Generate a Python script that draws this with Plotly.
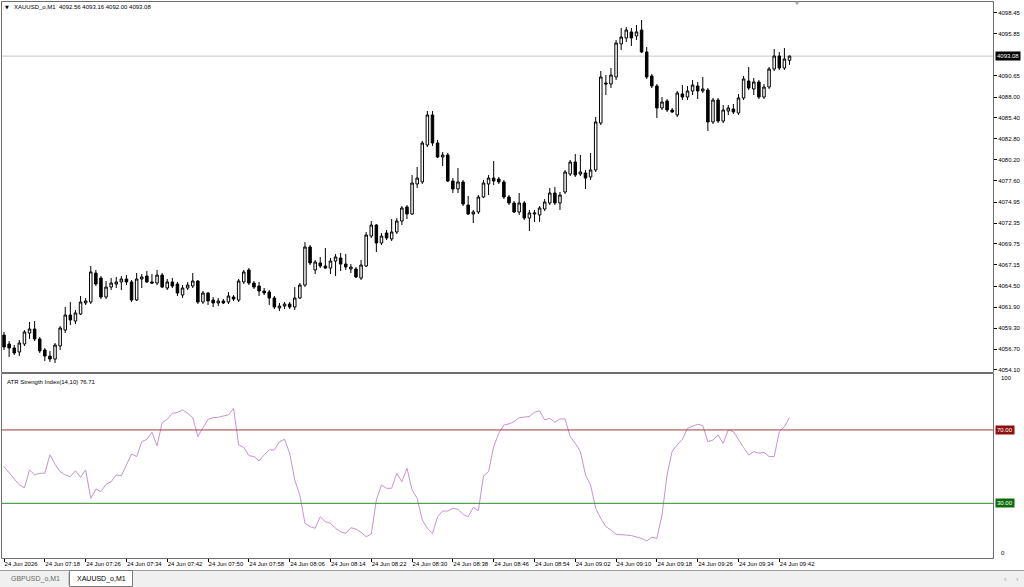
import plotly.graph_objects as go

# ---------------- data ----------------
time_labels = ["24 Jun 2026", "24 Jun 07:18", "24 Jun 07:26", "24 Jun 07:34", "24 Jun 07:42",
               "24 Jun 07:50", "24 Jun 07:58", "24 Jun 08:06", "24 Jun 08:14", "24 Jun 08:22",
               "24 Jun 08:30", "24 Jun 08:38", "24 Jun 08:46", "24 Jun 08:54", "24 Jun 09:02",
               "24 Jun 09:10", "24 Jun 09:18", "24 Jun 09:26", "24 Jun 09:34", "24 Jun 09:42"]

opens = [4058.44, 4057.33, 4056.83, 4056.33, 4057.33, 4058.69, 4059.19, 4057.95, 4056.58, 4055.83,
         4055.46, 4057.08, 4059.06, 4060.93, 4060.18, 4061.05, 4062.42, 4062.54, 4066.14, 4065.52,
         4063.16, 4064.40, 4064.78, 4065.03, 4065.40, 4065.03, 4062.79, 4065.40, 4065.77, 4065.03,
         4064.90, 4065.89, 4064.28, 4065.03, 4064.78, 4063.41, 4064.28, 4064.53, 4065.15, 4062.54,
         4063.66, 4062.79, 4062.42, 4062.67, 4062.54, 4063.16, 4062.79, 4065.03, 4066.52, 4064.90,
         4064.53, 4063.91, 4063.78, 4063.04, 4061.80, 4062.04, 4062.29, 4061.92, 4063.04, 4064.65,
         4069.37, 4066.52, 4067.39, 4067.01, 4066.76, 4067.63, 4068.01, 4067.26, 4066.64, 4066.64,
         4065.52, 4067.01, 4070.74, 4072.10, 4069.87, 4071.11, 4070.37, 4071.24, 4072.60, 4074.34,
         4073.47, 4077.20, 4077.45, 4082.04, 4085.77, 4082.29, 4080.55, 4080.80, 4077.57, 4076.58,
         4077.45, 4074.59, 4073.47, 4073.72, 4075.58, 4077.20, 4077.94, 4077.82, 4077.45, 4075.58,
         4074.84, 4073.72, 4074.84, 4072.97, 4073.47, 4073.35, 4074.09, 4074.84, 4076.08, 4074.84,
         4076.20, 4078.44, 4079.93, 4078.44, 4078.56, 4078.07, 4078.94, 4084.77, 4089.74, 4089.62,
         4090.49, 4094.59, 4095.33, 4096.08, 4095.58, 4096.32, 4093.59, 4090.61, 4089.37, 4086.64,
         4087.51, 4086.39, 4085.77, 4088.38, 4088.00, 4088.75, 4089.37, 4088.75, 4088.87, 4084.90,
         4087.63, 4085.02, 4086.26, 4086.51, 4086.02, 4087.88, 4089.99, 4089.00, 4089.87, 4088.00,
         4089.24, 4091.48, 4093.09, 4091.60, 4092.56]

highs = [4058.82, 4057.70, 4057.20, 4057.82, 4059.06, 4060.06, 4060.18, 4058.19, 4056.83, 4056.46,
         4057.45, 4059.56, 4061.92, 4062.54, 4061.55, 4063.29, 4063.04, 4067.01, 4066.52, 4065.77,
         4065.15, 4065.52, 4065.65, 4065.77, 4065.89, 4065.27, 4066.14, 4066.02, 4066.39, 4066.02,
         4066.52, 4066.14, 4065.40, 4065.52, 4065.03, 4064.65, 4065.03, 4066.14, 4065.27, 4063.91,
         4063.78, 4063.16, 4063.04, 4062.91, 4063.78, 4063.41, 4065.40, 4066.52, 4066.76, 4065.15,
         4065.03, 4064.28, 4064.03, 4063.29, 4062.42, 4062.54, 4062.54, 4064.40, 4064.90, 4069.99,
         4069.62, 4067.76, 4068.13, 4069.25, 4068.01, 4068.50, 4068.63, 4068.50, 4067.26, 4066.89,
         4067.76, 4071.24, 4072.60, 4072.23, 4071.11, 4071.48, 4072.85, 4072.97, 4074.46, 4074.59,
         4078.31, 4079.31, 4082.54, 4086.26, 4086.26, 4082.66, 4081.17, 4081.05, 4077.94, 4079.18,
         4077.69, 4075.71, 4073.97, 4075.83, 4077.69, 4078.31, 4080.05, 4078.07, 4077.69, 4075.83,
         4075.09, 4076.08, 4075.09, 4073.97, 4073.97, 4074.46, 4075.33, 4076.70, 4076.82, 4076.20,
         4078.94, 4080.18, 4080.92, 4080.80, 4078.94, 4081.05, 4085.52, 4091.23, 4090.73, 4091.60,
         4095.08, 4096.57, 4096.70, 4096.57, 4096.94, 4097.57, 4094.21, 4090.86, 4089.62, 4088.00,
         4087.75, 4086.64, 4088.75, 4089.49, 4089.37, 4090.11, 4089.87, 4090.49, 4089.12, 4087.88,
         4087.88, 4087.01, 4087.01, 4087.13, 4088.38, 4090.61, 4091.73, 4090.36, 4090.11, 4089.62,
         4091.73, 4093.96, 4093.59, 4094.09, 4093.16]

lows = [4056.58, 4055.71, 4055.96, 4055.83, 4057.08, 4057.95, 4057.70, 4056.21, 4055.21, 4055.09,
        4054.97, 4056.58, 4058.69, 4059.68, 4059.81, 4060.93, 4062.17, 4062.29, 4064.53, 4062.91,
        4062.91, 4064.03, 4064.28, 4064.03, 4064.65, 4062.54, 4062.67, 4064.28, 4064.90, 4064.78,
        4064.65, 4064.28, 4064.03, 4064.28, 4063.29, 4063.04, 4064.03, 4064.28, 4062.29, 4062.29,
        4062.17, 4061.92, 4062.04, 4062.29, 4062.29, 4062.67, 4062.54, 4064.78, 4064.65, 4064.16,
        4063.29, 4063.41, 4062.17, 4061.67, 4061.42, 4061.67, 4061.67, 4061.55, 4062.91, 4064.40,
        4067.14, 4066.02, 4066.76, 4066.64, 4066.02, 4065.77, 4066.39, 4066.52, 4066.14, 4065.52,
        4065.27, 4066.89, 4070.49, 4068.75, 4069.62, 4070.24, 4070.12, 4070.99, 4072.10, 4072.85,
        4073.35, 4076.70, 4077.20, 4081.79, 4081.92, 4080.43, 4079.43, 4077.45, 4076.08, 4076.08,
        4074.46, 4073.35, 4072.35, 4073.47, 4075.46, 4075.83, 4077.07, 4077.20, 4075.33, 4074.59,
        4073.60, 4073.35, 4072.73, 4071.36, 4072.48, 4072.48, 4073.84, 4074.59, 4074.59, 4073.97,
        4075.96, 4078.19, 4078.07, 4078.19, 4076.58, 4077.69, 4078.69, 4084.52, 4088.25, 4089.12,
        4090.11, 4093.84, 4094.83, 4094.34, 4095.08, 4093.47, 4090.24, 4089.12, 4085.39, 4086.39,
        4086.14, 4086.02, 4085.52, 4087.63, 4087.63, 4088.25, 4087.75, 4088.50, 4083.78, 4084.65,
        4084.77, 4084.77, 4085.77, 4085.89, 4085.77, 4087.63, 4088.87, 4088.25, 4087.75, 4087.75,
        4089.00, 4091.23, 4091.36, 4091.36, 4092.00]

closes = [4056.95, 4056.83, 4056.21, 4057.45, 4058.82, 4059.19, 4057.95, 4056.46, 4055.83, 4055.46,
          4057.20, 4059.31, 4060.93, 4060.31, 4061.18, 4062.54, 4062.67, 4066.27, 4064.78, 4063.16,
          4064.40, 4064.90, 4065.03, 4065.40, 4065.03, 4062.79, 4065.40, 4065.65, 4065.03, 4064.90,
          4065.89, 4064.40, 4065.03, 4064.53, 4063.66, 4064.28, 4064.65, 4065.15, 4062.54, 4063.66,
          4062.67, 4062.42, 4062.67, 4062.42, 4063.29, 4062.91, 4065.15, 4066.27, 4064.90, 4064.40,
          4063.91, 4063.66, 4063.04, 4061.92, 4062.04, 4062.29, 4061.92, 4063.04, 4064.65, 4069.37,
          4067.39, 4067.51, 4067.01, 4066.76, 4067.63, 4068.13, 4067.26, 4066.89, 4066.89, 4065.65,
          4067.14, 4070.86, 4072.10, 4069.87, 4070.74, 4070.49, 4071.24, 4072.60, 4074.22, 4073.47,
          4077.32, 4077.94, 4082.29, 4085.77, 4082.29, 4080.55, 4080.80, 4077.57, 4076.58, 4077.45,
          4074.71, 4073.47, 4073.72, 4075.58, 4077.32, 4077.94, 4077.57, 4077.45, 4075.58, 4074.84,
          4073.72, 4074.84, 4072.97, 4073.60, 4073.60, 4074.22, 4074.96, 4076.08, 4074.84, 4075.83,
          4078.69, 4079.93, 4078.31, 4078.69, 4077.94, 4078.94, 4084.90, 4090.49, 4089.62, 4090.73,
          4094.71, 4095.45, 4096.32, 4095.33, 4096.08, 4093.59, 4090.49, 4089.37, 4086.64, 4087.38,
          4086.39, 4086.14, 4088.50, 4088.00, 4088.75, 4089.49, 4088.75, 4089.00, 4084.90, 4087.63,
          4085.02, 4086.39, 4086.64, 4086.14, 4087.88, 4090.24, 4089.12, 4089.87, 4088.00, 4089.24,
          4091.48, 4093.09, 4091.60, 4092.72, 4093.08]

atr_strength = [50.0, 46.5, 43.0, 40.0, 38.5, 48.2, 45.5, 46.4, 46.4, 56.4,
                51.3, 47.3, 45.5, 44.5, 47.8, 44.2, 48.2, 32.7, 37.8, 36.4,
                40.4, 41.8, 45.5, 45.1, 50.9, 56.9, 55.5, 63.6, 64.9, 68.7,
                61.3, 74.0, 75.8, 79.1, 79.5, 80.9, 79.1, 76.7, 66.4, 70.9,
                75.8, 76.7, 76.9, 77.6, 78.2, 81.8, 61.8, 60.5, 56.0, 55.5,
                53.1, 56.4, 59.1, 59.1, 63.6, 64.9, 57.3, 42.7, 34.5, 19.1,
                17.3, 16.4, 22.7, 20.0, 19.1, 16.4, 14.5, 13.6, 16.7, 16.0,
                14.2, 11.8, 13.3, 31.8, 40.0, 38.2, 38.2, 46.4, 41.8, 49.1,
                37.3, 32.7, 20.9, 16.4, 13.6, 22.7, 25.8, 25.8, 27.3, 26.7,
                24.0, 22.7, 27.8, 26.0, 44.9, 47.3, 60.9, 68.2, 72.7, 73.3,
                74.5, 76.7, 76.9, 77.3, 79.6, 80.4, 75.5, 76.4, 74.2, 76.0,
                76.0, 66.4, 62.7, 58.2, 45.5, 40.0, 27.3, 21.8, 17.3, 15.5,
                13.1, 13.1, 12.7, 12.4, 11.8, 10.9, 9.5, 11.5, 10.9, 23.6,
                45.5, 58.5, 61.8, 64.9, 70.9, 71.8, 73.1, 72.4, 63.6, 64.5,
                67.3, 62.7, 70.0, 69.1, 64.5, 60.4, 56.4, 58.2, 57.3, 57.8,
                55.5, 55.5, 69.1, 71.8, 76.71]

price_ticks = [4098.45, 4095.85, 4090.65, 4088.00, 4085.40, 4082.80, 4080.20, 4077.60, 4074.95,
               4072.35, 4069.75, 4067.15, 4064.50, 4061.90, 4059.30, 4056.70, 4054.10]
current_price = 4093.08
levels = [70, 30]

n = len(closes)
assert len(opens) == len(highs) == len(lows) == n == len(atr_strength)
bars = list(range(n))
tick_pos = bars[::8][:len(time_labels)]

# ---------------- layout helpers (pixel -> paper) ----------------
W, H = 1024, 587
L, R, T, B = 2, 31, 2, 29


def px(x):
    return (x - L) / (W - L - R)


def py(y):
    return (H - B - y) / (H - T - B)


FONT = "Liberation Sans"
fig = go.Figure()

fig.add_trace(go.Candlestick(
    x=bars, open=opens, high=highs, low=lows, close=closes,
    xaxis="x", yaxis="y",
    increasing=dict(fillcolor="#ffffff", line=dict(color="#000000", width=1)),
    decreasing=dict(fillcolor="#000000", line=dict(color="#000000", width=1)),
    whiskerwidth=0, hoverinfo="skip", showlegend=False,
))

fig.add_trace(go.Scatter(
    x=bars, y=atr_strength, xaxis="x2", yaxis="y2", mode="lines",
    line=dict(color="#c594cf", width=1), hoverinfo="skip", showlegend=False,
))

xrange = [-0.4, 193.9]
main_dom = [py(372), 1.0]
ind_dom = [0.0, py(374)]

fig.update_layout(
    width=W, height=H, autosize=False,
    margin=dict(l=L, r=R, t=T, b=B, pad=0),
    paper_bgcolor="#ffffff", plot_bgcolor="#ffffff",
    font=dict(family=FONT, size=6, color="#000000"),
    showlegend=False, hovermode=False, dragmode=False,
    xaxis=dict(domain=[0, 1], anchor="y", range=xrange, showgrid=False, zeroline=False,
               showticklabels=False, ticks="", rangeslider=dict(visible=False), fixedrange=True),
    yaxis=dict(domain=main_dom, anchor="x", range=[4053.85, 4099.80], side="right",
               showgrid=False, zeroline=False, tickmode="array", tickvals=price_ticks,
               ticktext=[f"{v:.2f}" for v in price_ticks], ticks="outside", ticklen=3,
               tickcolor="#000000", tickwidth=1, tickfont=dict(size=6, family=FONT),
               fixedrange=True),
    xaxis2=dict(domain=[0, 1], anchor="y2", range=xrange, showgrid=False, zeroline=False,
                tickmode="array", tickvals=tick_pos, ticktext=time_labels,
                ticks="outside", ticklen=3, tickcolor="#000000", tickwidth=1,
                ticklabelposition="outside right", tickfont=dict(size=6, family=FONT),
                tickangle=0, fixedrange=True),
    yaxis2=dict(domain=ind_dom, anchor="x2", range=[0.2, 100.5], side="right",
                showgrid=False, zeroline=False, showticklabels=False, ticks="", fixedrange=True),
)

shapes = []
# current price line
shapes.append(dict(type="line", xref="paper", yref="y", x0=0, x1=1, y0=current_price,
                   y1=current_price, line=dict(color="#c8c8c8", width=1), layer="below"))
# level lines
shapes.append(dict(type="line", xref="paper", yref="y2", x0=0, x1=1, y0=levels[0], y1=levels[0],
                   line=dict(color="#9e3b3b", width=1)))
shapes.append(dict(type="line", xref="paper", yref="y2", x0=0, x1=1, y0=levels[1], y1=levels[1],
                   line=dict(color="#2f8a2f", width=1)))
# panel frames
shapes.append(dict(type="rect", xref="paper", yref="paper", x0=px(1.5), x1=px(993.5),
                   y0=py(372.5), y1=py(1.5), line=dict(color="#6e6e6e", width=1)))
shapes.append(dict(type="rect", xref="paper", yref="paper", x0=px(1.5), x1=px(993.5),
                   y0=py(558.5), y1=py(373.5), line=dict(color="#6e6e6e", width=1)))
# tab bar
shapes.append(dict(type="rect", xref="paper", yref="paper", x0=px(-2), x1=px(1026),
                   y0=py(589), y1=py(570.5), fillcolor="#f0f0f0", line=dict(width=0), layer="below"))
shapes.append(dict(type="line", xref="paper", yref="paper", x0=px(0), x1=px(1024),
                   y0=py(570.5), y1=py(570.5), line=dict(color="#a0a0a0", width=1)))
shapes.append(dict(type="rect", xref="paper", yref="paper", x0=px(69.5), x1=px(132.5),
                   y0=py(586.5), y1=py(570.5), fillcolor="#ffffff",
                   line=dict(color="#7a7a7a", width=1)))
shapes.append(dict(type="line", xref="paper", yref="paper", x0=px(68.5), x1=px(68.5),
                   y0=py(585), y1=py(573), line=dict(color="#c8c8c8", width=1)))
fig.update_layout(shapes=shapes)

ann = []
# header
ann.append(dict(xref="paper", yref="paper", x=px(3), y=py(7), xanchor="left", yanchor="middle",
                text="▼", showarrow=False, font=dict(size=5, color="#000000", family="DejaVu Sans")))
ann.append(dict(xref="paper", yref="paper", x=px(12), y=py(7), xanchor="left", yanchor="middle",
                text=f"XAUUSD_o,M1  {opens[-1]:.2f} {highs[-1]:.2f} {lows[-1]:.2f} {closes[-1]:.2f}",
                showarrow=False, font=dict(size=6, family=FONT)))
ann.append(dict(xref="paper", yref="paper", x=px(797), y=py(3), xanchor="center", yanchor="middle",
                text="▼", showarrow=False, font=dict(size=5, color="#a8a8a8", family="DejaVu Sans")))
# indicator name
ann.append(dict(xref="paper", yref="paper", x=px(5), y=py(382), xanchor="left", yanchor="middle",
                text=f"ATR Strength Index(14,10) {atr_strength[-1]:.2f}", showarrow=False,
                font=dict(size=6, family=FONT)))
# current price box
ann.append(dict(xref="paper", yref="y", x=px(995), y=current_price, xanchor="left", yanchor="middle",
                text=f"{current_price:.2f}", showarrow=False, bgcolor="#000000", borderpad=1,
                font=dict(size=6, color="#ffffff", family=FONT)))
# level labels
ann.append(dict(xref="paper", yref="y2", x=px(995), y=levels[0], xanchor="left", yanchor="middle",
                text=f"{levels[0]:.2f}", showarrow=False, bgcolor="#8e1010", borderpad=1,
                font=dict(size=6, color="#ffffff", family=FONT)))
ann.append(dict(xref="paper", yref="y2", x=px(995), y=levels[1], xanchor="left", yanchor="middle",
                text=f"{levels[1]:.2f}", showarrow=False, bgcolor="#0d6b0d", borderpad=1,
                font=dict(size=6, color="#ffffff", family=FONT)))
ann.append(dict(xref="paper", yref="paper", x=px(999), y=py(378), xanchor="left", yanchor="middle",
                text="100", showarrow=False, font=dict(size=6, family=FONT)))
ann.append(dict(xref="paper", yref="paper", x=px(999), y=py(553), xanchor="left", yanchor="middle",
                text="0", showarrow=False, font=dict(size=6, family=FONT)))
# tabs
ann.append(dict(xref="paper", yref="paper", x=px(35), y=py(579), xanchor="center", yanchor="middle",
                text="GBPUSD_o,M1", showarrow=False, font=dict(size=7, color="#6a6a6a", family=FONT)))
ann.append(dict(xref="paper", yref="paper", x=px(101), y=py(579), xanchor="center", yanchor="middle",
                text="XAUUSD_o,M1", showarrow=False, font=dict(size=7, color="#000000", family=FONT)))
ann.append(dict(xref="paper", yref="paper", x=px(1005), y=py(579), xanchor="center", yanchor="middle",
                text="‹", showarrow=False, font=dict(size=7, color="#9a9a9a", family=FONT)))
ann.append(dict(xref="paper", yref="paper", x=px(1017), y=py(579), xanchor="center", yanchor="middle",
                text="›", showarrow=False, font=dict(size=7, color="#9a9a9a", family=FONT)))
fig.update_layout(annotations=ann)

fig.write_html("out.html", config={"displayModeBar": False, "staticPlot": True})
